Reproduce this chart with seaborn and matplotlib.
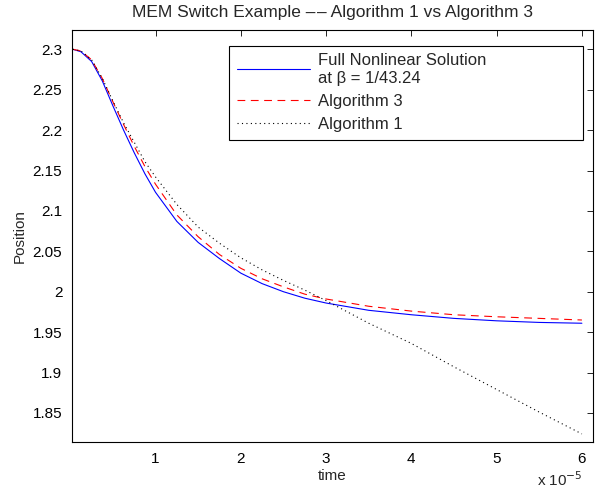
import numpy as np
import pandas as pd
import matplotlib
matplotlib.use("Agg")
import matplotlib.pyplot as plt
import seaborn as sns
from matplotlib.ticker import FormatStrFormatter

# time in units of 1e-5 s
time = [0.03, 0.125, 0.25, 0.375, 0.5, 0.625, 0.75, 0.875, 1.0, 1.25, 1.5, 1.75,
        2.0, 2.25, 2.5, 2.75, 3.0, 3.5, 4.0, 4.5, 5.0, 5.5, 6.0]

full_nonlinear = [2.300, 2.297, 2.285, 2.261, 2.230, 2.200, 2.172, 2.146, 2.123, 2.087,
                  2.061, 2.041, 2.023, 2.010, 2.000, 1.992, 1.986, 1.977, 1.9715,
                  1.967, 1.964, 1.962, 1.961]
algorithm3 = [2.300, 2.298, 2.287, 2.264, 2.235, 2.207, 2.180, 2.155, 2.133, 2.095,
              2.068, 2.046, 2.029, 2.016, 2.006, 1.997, 1.991, 1.982, 1.976,
              1.9715, 1.969, 1.967, 1.965]
algorithm1 = [2.300, 2.298, 2.287, 2.264, 2.236, 2.209, 2.185, 2.161, 2.142, 2.108,
              2.080, 2.060, 2.042, 2.027, 2.014, 2.002, 1.989, 1.961, 1.936,
              1.907, 1.879, 1.851, 1.824]

labels = ["Full Nonlinear Solution\nat \u03b2 = 1/43.24", "Algorithm 3", "Algorithm 1"]

sns.set_style("white")
plt.rcParams['font.family'] = ['Liberation Sans', 'DejaVu Sans']

fig = plt.figure(figsize=(6.08, 4.92), dpi=100)
ax = fig.add_axes([0.1184, 0.1016, 0.8569, 0.8384])

sns.lineplot(x=time, y=full_nonlinear, ax=ax, color=(0, 0, 1), linewidth=0.8,
             label=labels[0])
sns.lineplot(x=time, y=algorithm3, ax=ax, color=(1, 0, 0), linewidth=0.8,
             linestyle=(0, (7, 5)), label=labels[1])
sns.lineplot(x=time, y=algorithm1, ax=ax, color="black", linewidth=0.8,
             linestyle=(0, (1, 3)), label=labels[2])

ax.set_xlim(0.02, 6.13)
ax.set_ylim(1.814, 2.3245)
ax.set_xticks([1, 2, 3, 4, 5, 6])
ax.set_yticks(np.arange(1.85, 2.3001, 0.05))
ax.yaxis.set_major_formatter(FormatStrFormatter('%g'))
ax.tick_params(direction='in', length=4, width=0.6, top=True, right=True,
               labelsize=11, colors='black', pad=7)
for s in ax.spines.values():
    s.set_color('black')
    s.set_linewidth(0.8)

ax.set_xlabel("time", fontsize=11, labelpad=2)
ax.set_ylabel("Position", fontsize=11, labelpad=4)
ax.set_title("MEM Switch Example \u2013\u200a\u2013 Algorithm 1 vs Algorithm 3",
             fontsize=12.5, pad=9)
ax.text(0.981, -0.068, "x 10$^{-5}$", transform=ax.transAxes, ha='right', va='top',
        fontsize=11)

leg = ax.legend(loc='upper left', bbox_to_anchor=(0.302, 0.734, 0.679, 0.227),
                mode='expand', fancybox=False, framealpha=1, edgecolor='black',
                handlelength=4.4, handletextpad=0.5, fontsize=12,
                borderpad=0.45, labelspacing=0.5, borderaxespad=0)
leg.get_frame().set_linewidth(0.8)

fig.savefig("out.png", dpi=100)
